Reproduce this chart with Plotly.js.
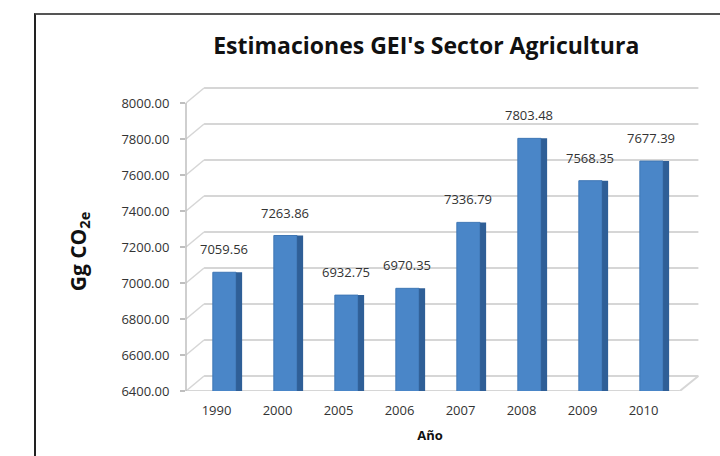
<!DOCTYPE html>
<html>
<head>
<meta charset="utf-8">
<script src="https://cdn.plot.ly/plotly-3.0.1.min.js"></script>
<style>
  html, body { margin: 0; padding: 0; background: #fff; }
  #wrap { position: relative; width: 720px; height: 456px; overflow: hidden; }
  #chart { position: absolute; left: 0; top: 0; width: 720px; height: 456px; }
  #frame { position: absolute; left: 34px; top: 13px; width: 800px; height: 600px;
           border-left: 2px solid #222; border-top: 2px solid #555; pointer-events: none; }
</style>
</head>
<body>
<div id="wrap">
  <div id="chart"></div>
  <div id="frame"></div>
</div>
<script>
const years = ['1990', '2000', '2005', '2006', '2007', '2008', '2009', '2010'];
const values = [7059.56, 7263.86, 6932.75, 6970.35, 7336.79, 7803.48, 7568.35, 7677.39];
const yTicks = [6400, 6600, 6800, 7000, 7200, 7400, 7600, 7800, 8000];
const yTickText = yTicks.map(v => v.toFixed(2));
const titleText = "Estimaciones GEI's Sector Agricultura";
const yTitleText = 'Gg CO<sub>2e</sub>';
const xTitleText = 'Año';

const FONT = 'Open Sans, Liberation Sans, sans-serif';
const TXT = '#333333';

const front = {
  type: 'bar', x: years, y: values,
  offset: -0.06, width: 0.38,
  marker: { color: '#4a86c8', line: { color: '#3f77b5', width: 1 } },
  hoverinfo: 'skip', showlegend: false
};
const side = {
  type: 'bar', x: years, y: values,
  offset: 0.32, width: 0.1,
  marker: { color: '#2f5f97', line: { width: 0 } },
  hoverinfo: 'skip', showlegend: false
};

const shapes = [];
const GRID = '#d6d6d6';
const backX0 = 0.037, backX1 = 1.05, dy = 15;
yTicks.forEach(v => {
  shapes.push({ type: 'line', xref: 'paper', yref: 'y', ysizemode: 'pixel', yanchor: v,
    x0: backX0, x1: backX1, y0: dy, y1: dy, line: { color: GRID, width: 2 }, layer: 'below' });
  shapes.push({ type: 'line', xref: 'paper', yref: 'y', ysizemode: 'pixel', yanchor: v,
    x0: 0, x1: backX0, y0: 0, y1: dy, line: { color: GRID, width: 1.5 }, layer: 'below' });
});
shapes.push({ type: 'line', xref: 'paper', yref: 'y', ysizemode: 'pixel', yanchor: yTicks[0],
  x0: 0, x1: 1.012, y0: 0, y1: 0, line: { color: GRID, width: 2 }, layer: 'below' });
shapes.push({ type: 'line', xref: 'paper', yref: 'y', ysizemode: 'pixel', yanchor: yTicks[0],
  x0: 1.012, x1: backX1, y0: 0, y1: dy, line: { color: GRID, width: 2 }, layer: 'below' });
shapes.push({ type: 'line', xref: 'paper', yref: 'y', x0: 0, x1: 0, y0: yTicks[0], y1: yTicks[yTicks.length - 1],
  line: { color: '#bfbfbf', width: 1.5 }, layer: 'below' });

const annotations = values.map((v, i) => ({
  x: i, y: v, xref: 'x', yref: 'y',
  text: v.toFixed(2), showarrow: false,
  yanchor: 'bottom', xanchor: 'center', xshift: 7, yshift: 12,
  font: { family: FONT, size: 13, color: TXT }
}));
annotations.push({
  xref: 'paper', yref: 'paper', x: -0.219, y: 0.457,
  text: yTitleText, showarrow: false, textangle: -90,
  xanchor: 'center', yanchor: 'middle',
  font: { family: FONT, size: 21, color: '#111', weight: 'bold' }
});

const layout = {
  width: 720, height: 456,
  margin: { l: 186, r: 46, t: 85, b: 65, autoexpand: false },
  paper_bgcolor: '#fff', plot_bgcolor: 'rgba(0,0,0,0)',
  barmode: 'overlay',
  title: { text: titleText, x: 0.592, xanchor: 'center', y: 0.9, yanchor: 'middle',
    font: { family: FONT, size: 23, color: '#111', weight: 'bold' } },
  xaxis: {
    type: 'category', range: [-0.5, 7.5], showgrid: false, showline: false, zeroline: false,
    ticks: '', ticklabelstandoff: 10,
    tickfont: { family: FONT, size: 13, color: TXT },
    title: { text: xTitleText, standoff: 12, font: { family: FONT, size: 13, color: '#111', weight: 'bold' } },
    fixedrange: true
  },
  yaxis: {
    range: [6400, 8100], tickvals: yTicks, ticktext: yTickText,
    showgrid: false, zeroline: false, showline: false,
    ticks: 'outside', ticklen: 5, tickcolor: '#bfbfbf', tickwidth: 1.5,
    ticklabelstandoff: 8,
    tickfont: { family: FONT, size: 13, color: TXT },
    fixedrange: true
  },
  shapes: shapes,
  annotations: annotations
};

Plotly.newPlot('chart', [front, side], layout, { staticPlot: true, displayModeBar: false });
</script>
</body>
</html>
